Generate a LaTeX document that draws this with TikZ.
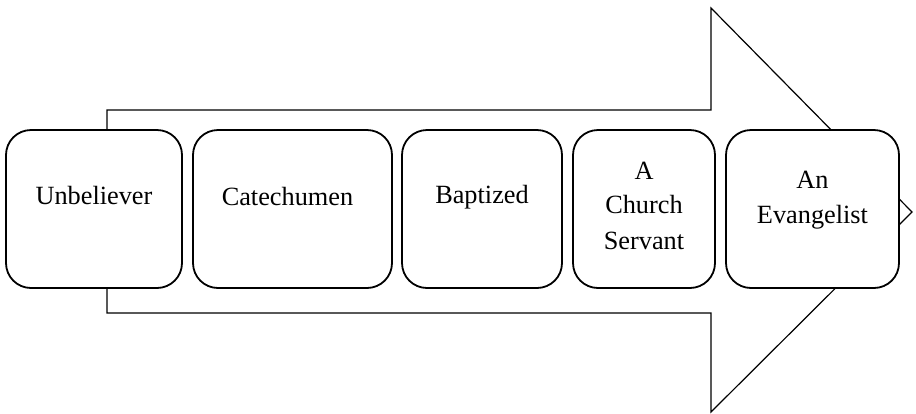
\documentclass[tikz,border=0pt]{standalone}
\usepackage{fontspec}
\setmainfont{Liberation Serif}
\begin{document}
\begin{tikzpicture}[x=1pt,y=-1pt,
  stagebox/.style={draw=black,line width=1.8pt,fill=white,rounded corners=25pt,inner sep=0pt,minimum height=158pt},
  stagetext/.style={anchor=base,inner sep=0pt,font=\fontsize{26.3}{30}\selectfont},
  bigarrow/.style={draw=black,line width=1.2pt,fill=white,line join=miter}]
\useasboundingbox (0,0) rectangle (916,413);
% big arrow
\draw[bigarrow] (107,110) -- (711,110) -- (711,8) -- (912,212) -- (711,412) -- (711,313) -- (107,313) -- cycle;
% stage boxes
\node[stagebox,minimum width=176pt] (b1) at (94,209) {};
\node[stagebox,minimum width=199pt] (b2) at (292.5,209) {};
\node[stagebox,minimum width=160pt] (b3) at (482,209) {};
\node[stagebox,minimum width=142pt] (b4) at (644,209) {};
\node[stagebox,minimum width=173pt] (b5) at (812.5,209) {};
% texts
\node[stagetext] (t1) at ([yshift=5pt]b1.center) {Unbeliever};
\node[stagetext] (t2) at ([xshift=-5pt,yshift=4pt]b2.center) {Catechumen};
\node[stagetext] (t3) at ([yshift=6pt]b3.center) {Baptized};
\node[stagetext] (t4a) at ([yshift=30pt]b4.center) {A};
\node[stagetext] (t4b) at ([yshift=-4pt]b4.center) {Church};
\node[stagetext] (t4c) at ([yshift=-40pt]b4.center) {Servant};
\node[stagetext] (t5a) at ([yshift=21pt]b5.center) {An};
\node[stagetext] (t5b) at ([yshift=-14pt]b5.center) {Evangelist};
\end{tikzpicture}
\end{document}
